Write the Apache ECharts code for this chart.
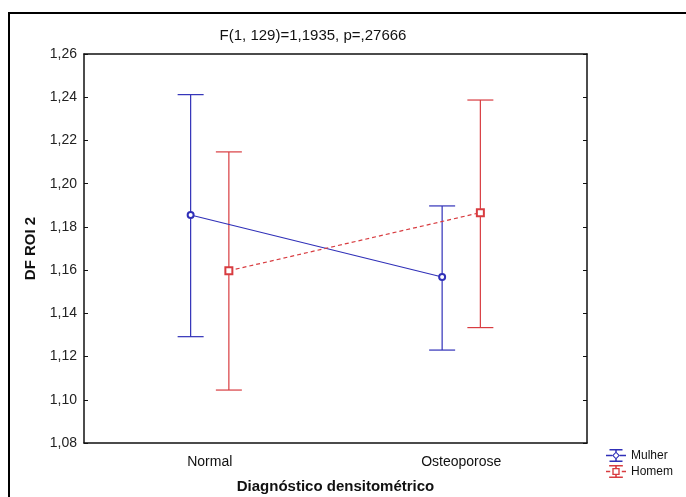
<!DOCTYPE html>
<html>
<head>
<meta charset="utf-8">
<script src="https://cdn.jsdelivr.net/npm/echarts@6/dist/echarts.min.js"></script>
<style>
html,body{margin:0;padding:0;background:#fff;}
#chart{width:686px;height:497px;}
</style>
</head>
<body>
<div id="chart"></div>
<script>
var categories = ['Normal', 'Osteoporose'];
var mulherMean = [1.1855, 1.1568];
var mulherLow  = [1.1292, 1.1230];
var mulherHigh = [1.2412, 1.1897];
var homemMean  = [1.1597, 1.1866];
var homemLow   = [1.1045, 1.1334];
var homemHigh  = [1.2147, 1.2387];

var blue = '#3030b8';
var red = '#d83c40';
var dodge = 0.076;   // horizontal shift of each group inside a category
var font = 'Liberation Sans, Arial, sans-serif';

function points(mean, shift) {
    return mean.map(function (v, i) { return [i + shift, v]; });
}
function bars(lo, hi, shift) {
    return lo.map(function (v, i) { return [i + shift, v, hi[i]]; });
}
function errorBar(color) {
    return function (params, api) {
        var x = api.value(0);
        var top = api.coord([x, api.value(2)]);
        var bot = api.coord([x, api.value(1)]);
        var hw = 13;
        var st = {stroke: color, lineWidth: 1.2};
        return {
            type: 'group',
            children: [
                {type: 'line', shape: {x1: top[0] - hw, y1: top[1], x2: top[0] + hw, y2: top[1]}, style: st},
                {type: 'line', shape: {x1: top[0], y1: top[1], x2: bot[0], y2: bot[1]}, style: st},
                {type: 'line', shape: {x1: bot[0] - hw, y1: bot[1], x2: bot[0] + hw, y2: bot[1]}, style: st}
            ]
        };
    };
}

// legend icons: error bar with hollow marker, drawn in a 20x13 box
var iconMulher = 'path://M3.5,0L16.5,0L16.5,1.5L3.5,1.5Z M3.5,11.5L16.5,11.5L16.5,13L3.5,13Z' +
    'M9.25,1.5L10.75,1.5L10.75,3L9.25,3Z M9.25,10L10.75,10L10.75,11.5L9.25,11.5Z' +
    'M0,5.75L6.2,5.75L6.2,7.25L0,7.25Z M13.8,5.75L20,5.75L20,7.25L13.8,7.25Z' +
    'M10,2.6L13.9,6.5L10,10.4L6.1,6.5Z M10,4.1L7.6,6.5L10,8.9L12.4,6.5Z';
var iconHomem = 'path://M3.5,0L16.5,0L16.5,1.5L3.5,1.5Z M3.5,11.5L16.5,11.5L16.5,13L3.5,13Z' +
    'M9.25,1.5L10.75,1.5L10.75,3L9.25,3Z M9.25,10L10.75,10L10.75,11.5L9.25,11.5Z' +
    'M0.5,5.75L4.5,5.75L4.5,7.25L0.5,7.25Z M15.5,5.75L19.5,5.75L19.5,7.25L15.5,7.25Z' +
    'M6.5,3L13.5,3L13.5,10L6.5,10Z M7.8,4.3L7.8,8.7L12.2,8.7L12.2,4.3Z';

var myChart = echarts.init(document.getElementById('chart'), null, {renderer: 'canvas'});
var option = {
    backgroundColor: '#fff',
    animation: false,
    textStyle: {fontFamily: font},
    title: {
        text: 'F(1, 129)=1,1935, p=,27666',
        left: 308,
        top: 23,
        textAlign: 'center',
        textStyle: {fontSize: 15, fontWeight: 'normal', color: '#111', fontFamily: font}
    },
    graphic: [{
        type: 'rect',
        shape: {x: 9, y: 13, width: 700, height: 500},
        style: {fill: 'none', stroke: '#000', lineWidth: 2}
    }],
    legend: {
        orient: 'vertical',
        left: 601,
        top: 444,
        itemWidth: 20,
        itemHeight: 13,
        itemGap: 3,
        symbolKeepAspect: false,
        textStyle: {fontSize: 12, color: '#111', fontFamily: font},
        data: [
            {name: 'Mulher', icon: iconMulher, itemStyle: {color: blue, borderWidth: 0}},
            {name: 'Homem', icon: iconHomem, itemStyle: {color: red, borderWidth: 0}}
        ]
    },
    grid: {left: 84, right: 99, top: 54, bottom: 54, containLabel: false, outerBoundsMode: 'none'},
    xAxis: [
        {
            type: 'category',
            data: categories,
            position: 'bottom',
            name: 'Diagnóstico densitométrico',
            nameLocation: 'middle',
            nameGap: 36,
            nameTextStyle: {fontSize: 15, fontWeight: 'bold', color: '#111', fontFamily: font},
            axisLine: {onZero: false, lineStyle: {color: '#111', width: 1.5}},
            axisTick: {inside: true, length: 5, alignWithLabel: true, lineStyle: {color: '#111'}},
            axisLabel: {fontSize: 14, color: '#111', margin: 12}
        },
        {
            type: 'category',
            data: categories,
            position: 'top',
            axisLine: {onZero: false, lineStyle: {color: '#111', width: 1.5}},
            axisTick: {inside: true, length: 5, alignWithLabel: true, lineStyle: {color: '#111'}},
            axisLabel: {show: false}
        },
        {
            type: 'value',
            min: -0.5,
            max: 1.5,
            show: false
        }
    ],
    yAxis: [
        {
            type: 'value',
            min: 1.08,
            max: 1.26,
            interval: 0.02,
            position: 'left',
            name: 'DF ROI 2',
            nameLocation: 'middle',
            nameGap: 44,
            nameTextStyle: {fontSize: 15, fontWeight: 'bold', color: '#111', fontFamily: font},
            axisLine: {show: true, onZero: false, lineStyle: {color: '#111', width: 1.5}},
            axisTick: {show: true, inside: true, length: 4, lineStyle: {color: '#111'}},
            splitLine: {show: false},
            axisLabel: {
                fontSize: 14, color: '#222', margin: 7,
                formatter: function (v) { return v.toFixed(2).replace('.', ','); }
            }
        },
        {
            type: 'value',
            min: 1.08,
            max: 1.26,
            interval: 0.02,
            position: 'right',
            axisLine: {show: true, onZero: false, lineStyle: {color: '#111', width: 1.5}},
            axisTick: {show: true, inside: true, length: 4, lineStyle: {color: '#111'}},
            splitLine: {show: false},
            axisLabel: {show: false}
        }
    ],
    series: [
        {
            name: 'Mulher',
            type: 'custom',
            xAxisIndex: 2,
            renderItem: errorBar(blue),
            data: bars(mulherLow, mulherHigh, -dodge),
            z: 2
        },
        {
            name: 'Homem',
            type: 'custom',
            xAxisIndex: 2,
            renderItem: errorBar(red),
            data: bars(homemLow, homemHigh, dodge),
            z: 2
        },
        {
            name: 'Mulher',
            type: 'line',
            xAxisIndex: 2,
            data: points(mulherMean, -dodge),
            symbol: 'emptyCircle',
            symbolSize: 6,
            lineStyle: {color: blue, width: 1.2},
            itemStyle: {color: blue, borderWidth: 1.2},
            z: 5
        },
        {
            name: 'Homem',
            type: 'line',
            xAxisIndex: 2,
            data: points(homemMean, dodge),
            symbol: 'emptyRect',
            symbolSize: 7,
            lineStyle: {color: red, width: 1.2, type: [4, 3]},
            itemStyle: {color: red, borderWidth: 1.2},
            z: 5
        }
    ]
};
myChart.setOption(option);
</script>
</body>
</html>
